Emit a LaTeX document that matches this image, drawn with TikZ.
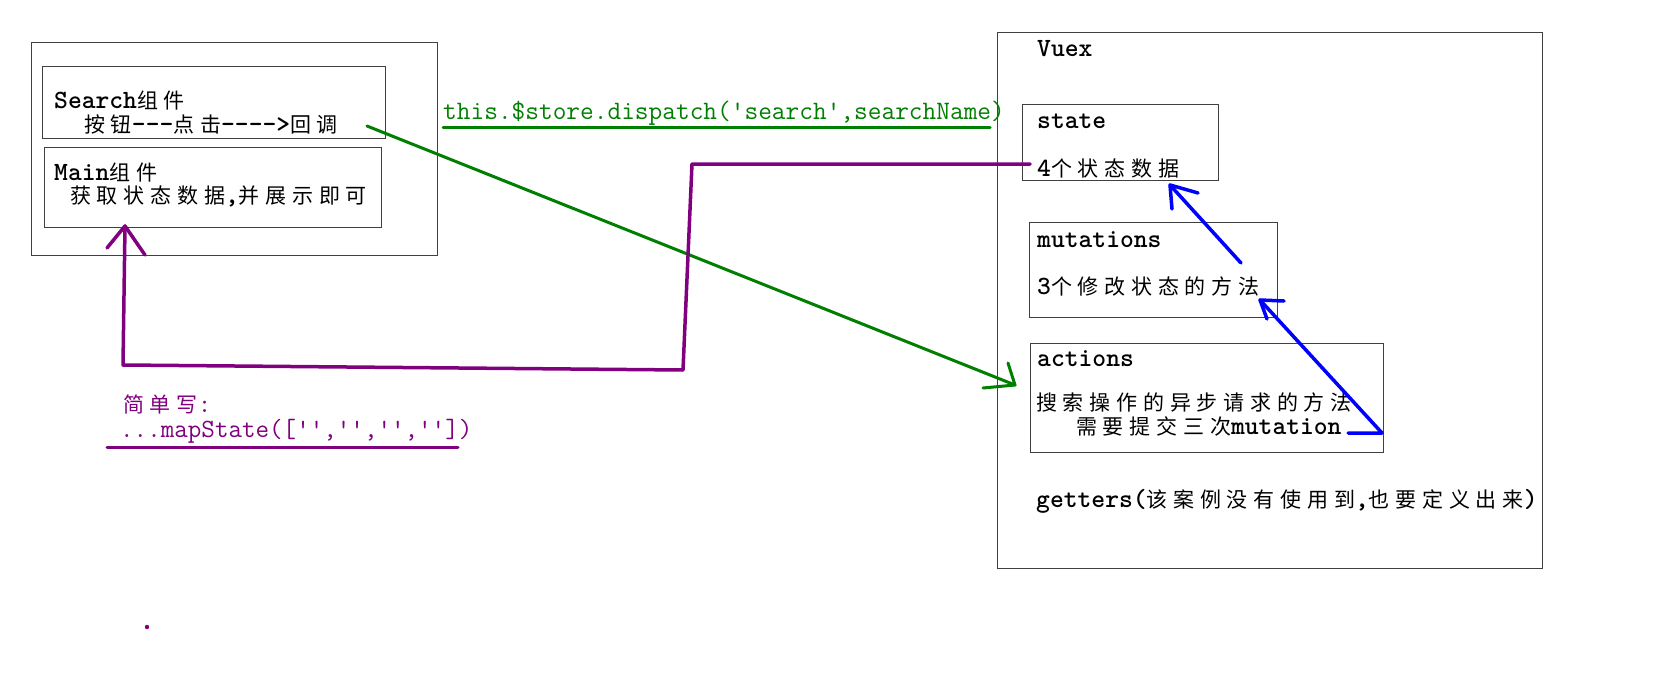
\documentclass[tikz,border=0pt]{standalone}
\usepackage{fontspec}
\newfontfamily\cjk[LetterSpace=27.5]{Noto Sans CJK SC}
\newcommand\zh[1]{{\fontsize{21}{26}\cjk\mdseries #1}}
\definecolor{vgreen}{RGB}{0,128,0}
\definecolor{vpurple}{RGB}{128,0,128}
\definecolor{vblue}{RGB}{0,0,255}
\begin{document}
\begin{tikzpicture}[x=1pt,y=-1pt,
  box/.style={draw=black!75,line width=1.4pt,inner sep=0pt,anchor=north west},
  lbl/.style={anchor=base west,inner sep=0pt,font=\ttfamily\fontsize{26.3}{30}\selectfont\bfseries},
  glbl/.style={anchor=base west,inner sep=0pt,font=\ttfamily\fontsize{26.6}{30}\selectfont,text=vgreen},
  plbl/.style={anchor=base west,inner sep=0pt,font=\ttfamily\fontsize{26.3}{30}\selectfont,text=vpurple},
  gline/.style={draw=vgreen,line width=3pt,line cap=round,line join=round},
  pline/.style={draw=vpurple,line width=3.5pt,line cap=round,line join=round},
  bline/.style={draw=vblue,line width=3.5pt,line cap=round,line join=round},
]
\useasboundingbox (0,0) rectangle (1673,677);
\fill[white] (0,0) rectangle (1673,677);

% boxes
\node[box,minimum width=406pt,minimum height=213pt] (outer) at (31,42) {};
\node[box,minimum width=343pt,minimum height=72pt] (search) at (42,66) {};
\node[box,minimum width=337pt,minimum height=80pt] (main) at (44,147) {};
\node[box,minimum width=545pt,minimum height=536pt] (vuex) at (997,32) {};
\node[box,minimum width=196pt,minimum height=76pt] (state) at (1022,104) {};
\node[box,minimum width=248pt,minimum height=95pt] (mut) at (1029,222) {};
\node[box,minimum width=353pt,minimum height=109pt] (act) at (1030,343) {};

% texts
\node[lbl] (tSearch) at (54,108) {Search\zh{组件}};
\node[lbl] (tBtn) at (84,132) {\zh{按钮}---\zh{点击}---->\zh{回调}};
\node[lbl] (tMain) at (54,180) {Main\zh{组件}};
\node[lbl] (tMainD) at (70,203) {\zh{获取状态数据},\zh{并展示即可}};
\node[glbl] (tDispatch) at (443,119) {this.\$store.dispatch('search',searchName)};
\node[lbl] (tVuex) at (1037,57) {Vuex};
\node[lbl] (tState) at (1037,128) {state};
\node[lbl] (tStateD) at (1037,176) {4\zh{个状态数据}};
\node[lbl] (tMut) at (1037,247) {mutations};
\node[lbl] (tMutD) at (1037,294) {3\zh{个修改状态的方法}};
\node[lbl] (tAct) at (1037,366) {actions};
\node[lbl] (tActD1) at (1036,410) {\zh{搜索操作的异步请求的方法}};
\node[lbl] (tActD2) at (1076,434) {\zh{需要提交三次}mutation};
\node[lbl] (tGet) at (1036,507) {getters(\zh{该案例没有使用到},\zh{也要定义出来})};
\node[plbl] (tSimple) at (123,412) {\zh{简单写}:};
\node[plbl] (tMap) at (120,437) {...mapState(['','','',''])};

% coordinates
\coordinate (gS) at (367,126);
\coordinate (gT) at (1015,385);
\coordinate (gL1) at (1008,363);
\coordinate (gL2) at (983,388);
\coordinate (gu1) at (443,127);
\coordinate (gu2) at (990,127);
\coordinate (p0) at (1030,164);
\coordinate (p1) at (692,164);
\coordinate (p2) at (683,370);
\coordinate (p3) at (123,365);
\coordinate (pT) at (125,226);
\coordinate (pL1) at (107,248);
\coordinate (pL2) at (145,255);
\coordinate (pu1) at (107,447);
\coordinate (pu2) at (458,447);
\coordinate (b1S) at (1241,263);
\coordinate (b1T) at (1170,185);
\coordinate (b1L1) at (1198,193);
\coordinate (b1L2) at (1172,209);
\coordinate (b2S) at (1348,433);
\coordinate (b2C) at (1382,433);
\coordinate (b2T) at (1260,300);
\coordinate (b2L1) at (1284,301);
\coordinate (b2L2) at (1267,319);
\coordinate (dot) at (147,627);

% connectors
\draw[gline] (gu1) -- (gu2);
\draw[gline] (gS) -- (gT);
\draw[gline] (gL1) -- (gT) -- (gL2);
\draw[pline] (p0) -- (p1) -- (p2) -- (p3) -- (pT);
\draw[pline] (pL1) -- (pT) -- (pL2);
\draw[pline,line width=3pt] (pu1) -- (pu2);
\fill[vpurple] (dot) circle (2.2pt);
\draw[bline] (b1S) -- (b1T);
\draw[bline] (b1L1) -- (b1T) -- (b1L2);
\draw[bline] (b2S) -- (b2C) -- (b2T);
\draw[bline] (b2L1) -- (b2T) -- (b2L2);
\end{tikzpicture}
\end{document}
